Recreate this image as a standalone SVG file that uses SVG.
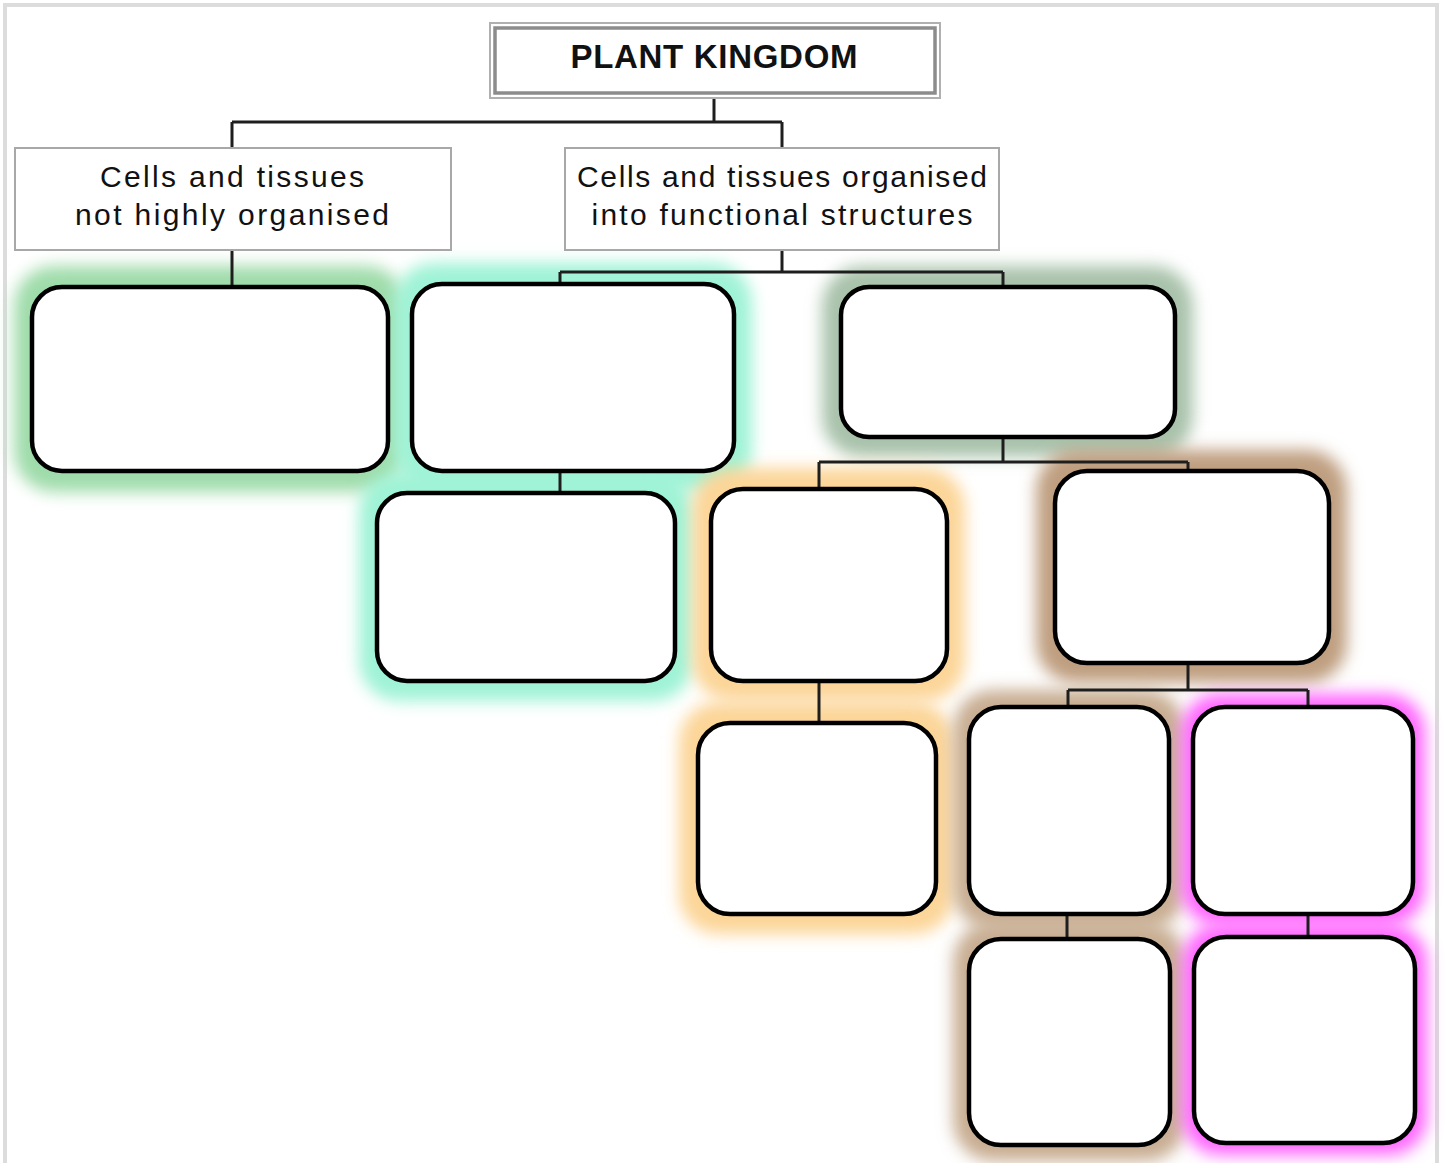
<svg xmlns="http://www.w3.org/2000/svg" width="1445" height="1163" viewBox="0 0 1445 1163">
<style>
.frame{fill:none;stroke:#dcdcdc;stroke-width:4}
.cat{fill:#fff;stroke:#a8a8a8;stroke-width:2}
.lbl{font-family:"Liberation Sans",Arial,sans-serif;font-size:30px;fill:#111;text-anchor:middle}
.ttl{font-family:"Liberation Sans",Arial,sans-serif;font-size:33px;font-weight:bold;fill:#111;text-anchor:middle}
.box{fill:#fff;stroke:#000;stroke-width:4.5}
.glow{filter:url(#blur)}
.conn path{fill:none;stroke:#1e1e1e;stroke-width:3}
</style>
<defs>
<filter id="blur" x="-30%" y="-30%" width="160%" height="160%">
<feGaussianBlur stdDeviation="8"/>
</filter>
</defs>
<rect width="1445" height="1163" fill="#fff"/>
<path class="frame" d="M5 1170 V5 H1437 V1170"/>

<g id="glows">
<rect class="glow" x="14" y="266" width="392" height="226" rx="40" fill="#9fdcaa"/>
<rect class="glow" x="394" y="263" width="358" height="228" rx="40" fill="#9ff3d6"/>
<rect class="glow" x="359" y="472" width="334" height="229" rx="40" fill="#9ff3d6"/>
<rect class="glow" x="822" y="266" width="371" height="191" rx="40" fill="#a9c2ab"/>
<rect class="glow" x="692" y="468" width="273" height="233" rx="40" fill="#fcd598"/>
<rect class="glow" x="679" y="702" width="275" height="232" rx="40" fill="#fcd598"/>
<rect class="glow" x="1036" y="450" width="311" height="233" rx="40" fill="#bf9f80"/>
<rect class="glow" x="953" y="690" width="232" height="240" rx="40" fill="#c8ad92"/>
<rect class="glow" x="953" y="922" width="233" height="239" rx="40" fill="#c8ad92"/>
<rect class="glow" x="1181" y="694" width="244" height="232" rx="38" fill="#ff66ff"/>
<rect class="glow" x="1182" y="924" width="245" height="231" rx="38" fill="#ff66ff"/>
</g>

<g class="conn" id="connectors">
<path d="M714 98 V122 M232 122 H782 M232 122 V148 M782 122 V148"/>
<path d="M232 250 V287"/>
<path d="M782 250 V272 M560 272 H1003 M560 272 V284 M1003 272 V287"/>
<path d="M560 471 V493"/>
<path d="M1003 437 V462 M819 462 H1188 M819 462 V489 M1188 462 V471"/>
<path d="M819 681 V723"/>
<path d="M1188 663 V690 M1068 690 H1308 M1068 690 V707 M1308 690 V707"/>
<path d="M1067 914 V939"/>
<path d="M1308 914 V937"/>
</g>

<g id="title">
<rect x="490" y="23" width="450" height="75" fill="#fff" stroke="#b0b0b0" stroke-width="2"/>
<rect x="495" y="28" width="440" height="65" fill="#fff" stroke="#8c8c8c" stroke-width="3.5"/>
<text class="ttl" x="714" y="68" textLength="287" lengthAdjust="spacing">PLANT KINGDOM</text>
</g>

<g id="cat-left">
<rect class="cat" x="15" y="148" width="436" height="102"/>
<text class="lbl" x="232" y="187" textLength="264" lengthAdjust="spacing">Cells and tissues</text>
<text class="lbl" x="232" y="225" textLength="314" lengthAdjust="spacing">not highly organised</text>
</g>

<g id="cat-right">
<rect class="cat" x="565" y="148" width="434" height="102"/>
<text class="lbl" x="782" y="187" textLength="410" lengthAdjust="spacing">Cells and tissues organised</text>
<text class="lbl" x="782" y="225" textLength="381" lengthAdjust="spacing">into functional structures</text>
</g>

<g id="n1"><rect class="box" x="32" y="287" width="356" height="184" rx="30"/></g>
<g id="n2"><rect class="box" x="412" y="284" width="322" height="187" rx="30"/></g>
<g id="n3"><rect class="box" x="841" y="287" width="334" height="150" rx="28"/></g>
<g id="n4"><rect class="box" x="377" y="493" width="298" height="188" rx="30"/></g>
<g id="n5"><rect class="box" x="711" y="489" width="236" height="192" rx="32"/></g>
<g id="n6"><rect class="box" x="1055" y="471" width="274" height="192" rx="32"/></g>
<g id="n7"><rect class="box" x="698" y="723" width="238" height="191" rx="32"/></g>
<g id="n8"><rect class="box" x="969" y="707" width="200" height="207" rx="32"/></g>
<g id="n9"><rect class="box" x="1193" y="707" width="220" height="207" rx="32"/></g>
<g id="n10"><rect class="box" x="969" y="939" width="201" height="206" rx="32"/></g>
<g id="n11"><rect class="box" x="1194" y="937" width="221" height="206" rx="32"/></g>
</svg>
